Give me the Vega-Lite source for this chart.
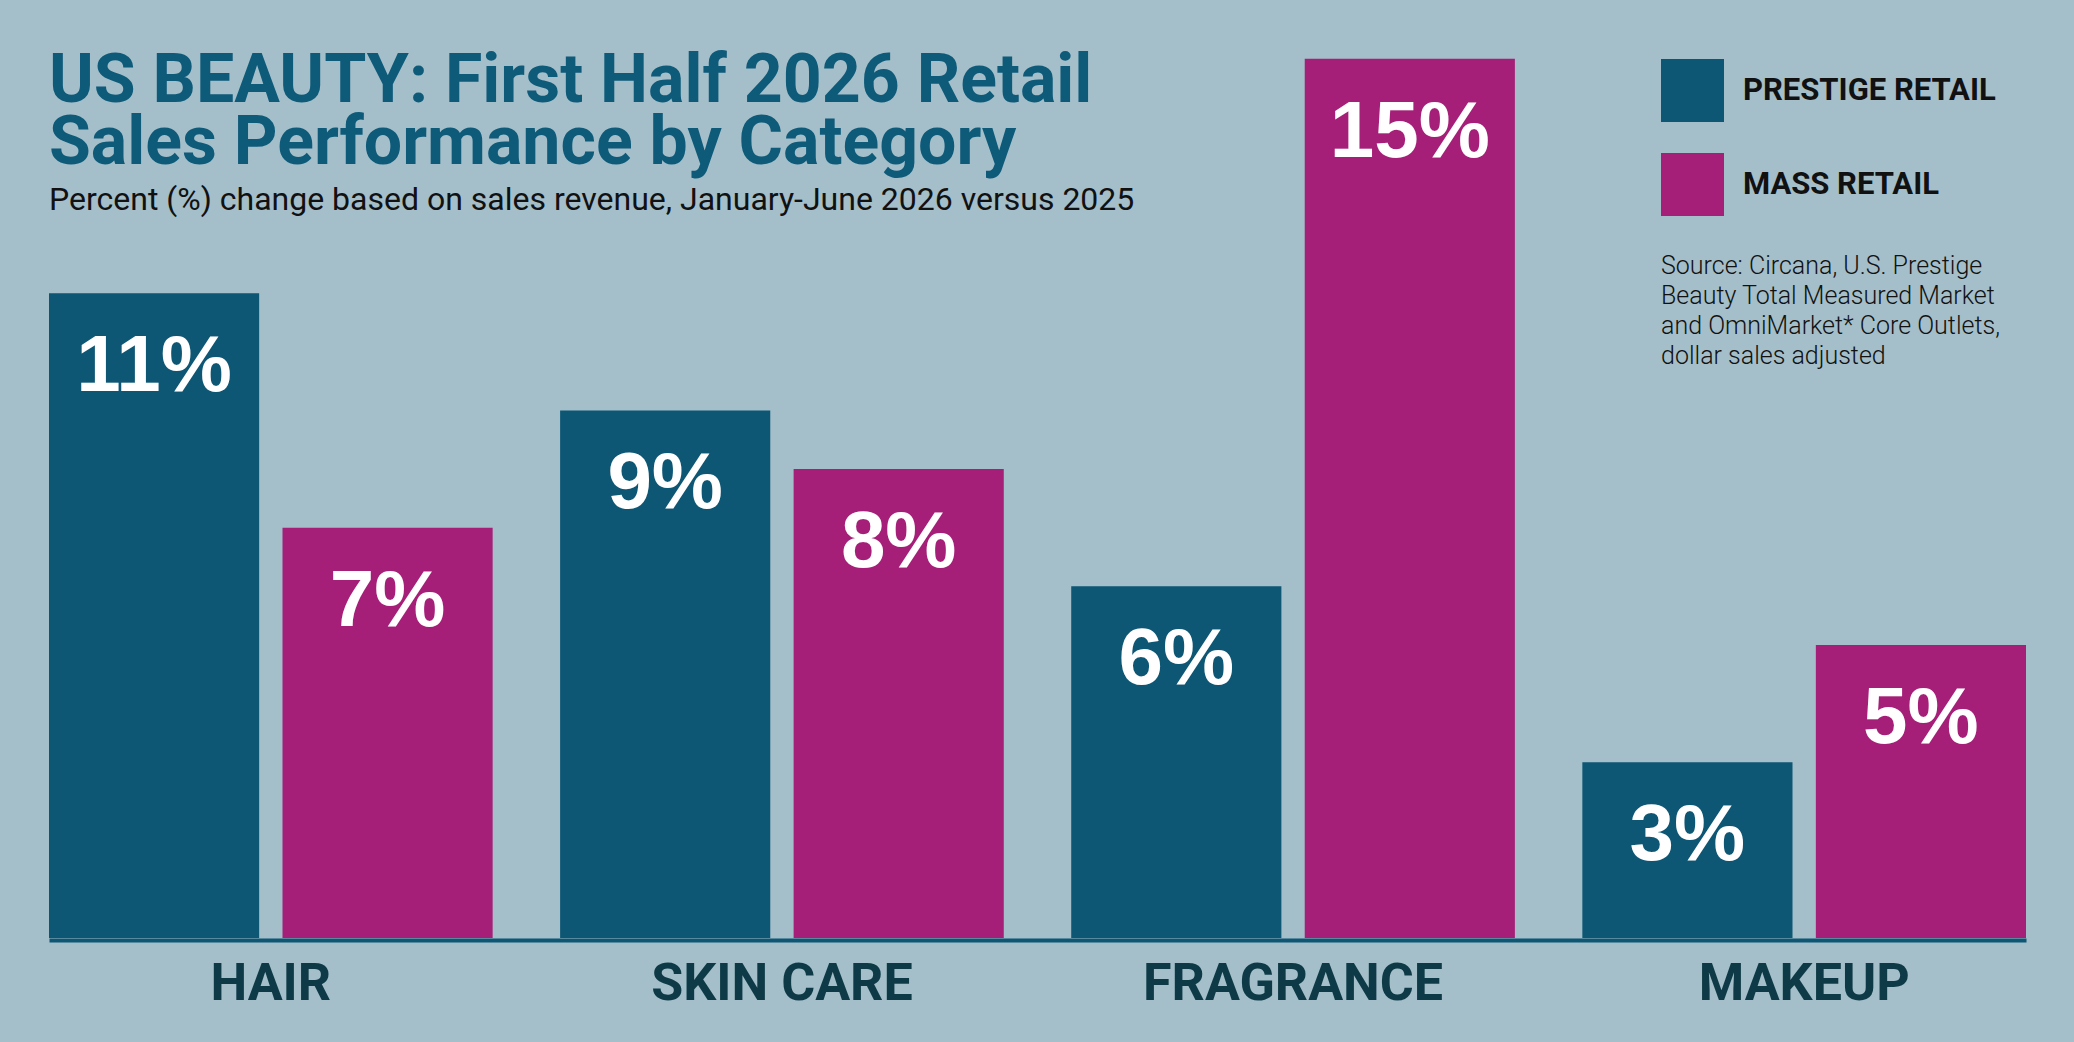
{
  "$schema": "https://vega.github.io/schema/vega-lite/v6.json",
  "description": "US beauty first half 2026 retail sales change by category, prestige vs mass.",
  "width": 1977,
  "height": 938,
  "autosize": {"type": "none"},
  "padding": {"left": 49, "top": 0, "right": 48, "bottom": 104},
  "background": "#a4bfca",
  "title": {
    "text": ["US BEAUTY: First Half 2026 Retail", "Sales Performance by Category"],
    "subtitle": "Percent (%) change based on sales revenue, January-June 2026 versus 2025",
    "anchor": "start",
    "frame": "group",
    "offset": -216,
    "font": "Roboto",
    "fontSize": 68,
    "fontWeight": 700,
    "lineHeight": 62,
    "color": "#0e5a79",
    "subtitleFont": "Roboto",
    "subtitleFontSize": 32,
    "subtitleFontWeight": 400,
    "subtitleColor": "#111111",
    "subtitlePadding": 7
  },
  "data": {
    "values": [
      {"category": "HAIR", "retail": "PRESTIGE RETAIL", "value": 11, "label": "11%"},
      {"category": "HAIR", "retail": "MASS RETAIL", "value": 7, "label": "7%"},
      {"category": "SKIN CARE", "retail": "PRESTIGE RETAIL", "value": 9, "label": "9%"},
      {"category": "SKIN CARE", "retail": "MASS RETAIL", "value": 8, "label": "8%"},
      {"category": "FRAGRANCE", "retail": "PRESTIGE RETAIL", "value": 6, "label": "6%"},
      {"category": "FRAGRANCE", "retail": "MASS RETAIL", "value": 15, "label": "15%"},
      {"category": "MAKEUP", "retail": "PRESTIGE RETAIL", "value": 3, "label": "3%"},
      {"category": "MAKEUP", "retail": "MASS RETAIL", "value": 5, "label": "5%"}
    ]
  },
  "encoding": {
    "x": {
      "field": "category",
      "type": "nominal",
      "sort": ["HAIR", "SKIN CARE", "FRAGRANCE", "MAKEUP"],
      "scale": {"paddingInner": 0.132, "paddingOuter": 0},
      "axis": {
        "title": null,
        "labelAngle": 0,
        "labelFont": "Roboto",
        "labelFontSize": 52,
        "labelFontWeight": 700,
        "labelColor": "#0d3a46",
        "labelPadding": 18,
        "labelLimit": 600,
        "ticks": false,
        "tickSize": 0,
        "grid": false,
        "offset": 2,
        "domainColor": "#0d5674",
        "domainWidth": 4
      }
    },
    "xOffset": {
      "field": "retail",
      "type": "nominal",
      "sort": ["PRESTIGE RETAIL", "MASS RETAIL"],
      "scale": {"paddingInner": 0.1, "paddingOuter": 0}
    },
    "y": {
      "field": "value",
      "type": "quantitative",
      "scale": {"domain": [0, 16]},
      "axis": null
    }
  },
  "layer": [
    {
      "mark": {"type": "bar", "opacity": 1},
      "encoding": {
        "color": {
          "field": "retail",
          "type": "nominal",
          "scale": {"domain": ["PRESTIGE RETAIL", "MASS RETAIL"], "range": ["#0d5674", "#a51f78"]},
          "legend": {
            "orient": "none",
            "legendX": 1612,
            "legendY": 59,
            "padding": 0,
            "symbolType": "square",
            "symbolSize": 3969,
            "symbolStrokeWidth": 0,
            "symbolOpacity": 1,
            "rowPadding": 31,
            "labelOffset": 19,
            "labelFont": "Roboto",
            "labelFontSize": 31,
            "labelFontWeight": 700,
            "labelColor": "#111111",
            "labelLimit": 400,
            "title": ["Source: Circana, U.S. Prestige", "Beauty Total Measured Market", "and OmniMarket* Core Outlets,", "dollar sales adjusted"],
            "titleOrient": "bottom",
            "titleAnchor": "start",
            "titlePadding": 38,
            "titleFont": "Roboto",
            "titleFontSize": 25,
            "titleFontWeight": 300,
            "titleColor": "#111111",
            "titleLineHeight": 30,
            "titleLimit": 600
          }
        }
      }
    },
    {
      "mark": {
        "type": "text",
        "font": "Liberation Sans",
        "fontSize": 80,
        "fontWeight": "bold",
        "color": "#ffffff",
        "baseline": "alphabetic",
        "dy": 98
      },
      "encoding": {
        "text": {"field": "label"}
      }
    }
  ],
  "config": {"view": {"stroke": null}}
}
